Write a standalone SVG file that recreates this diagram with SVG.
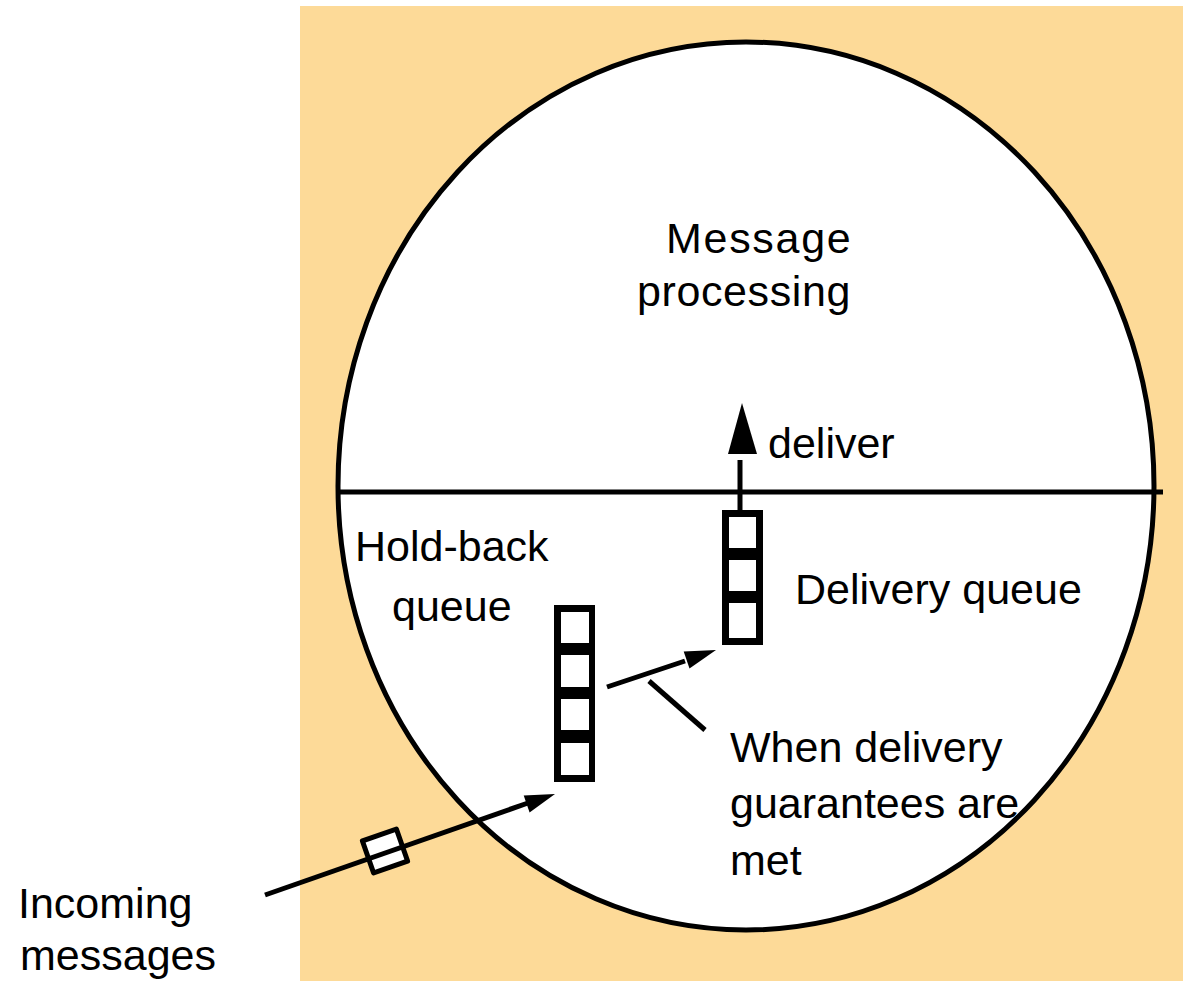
<svg xmlns="http://www.w3.org/2000/svg" width="1183" height="981" viewBox="0 0 1183 981">
  <style>
    .lbl { font-family: "Liberation Sans", Arial, sans-serif; font-size: 43px; fill: #000; }
    .ln { stroke: #000; stroke-width: 5; fill: none; }
    .head { fill: #000; }
    .cell { fill: #fff; }
  </style>

  <!-- process background -->
  <rect id="background" x="300" y="6" width="883" height="975" fill="#FDDA98"/>

  <!-- process boundary, split into processing and queue halves -->
  <g id="process">
    <ellipse cx="746" cy="486" rx="408" ry="444" fill="#fff" stroke="#000" stroke-width="5"/>
    <line x1="338" y1="492" x2="1163" y2="492" class="ln"/>
  </g>

  <g id="message-processing">
    <text class="lbl" x="666" y="253" letter-spacing="1.7">Message</text>
    <text class="lbl" x="637" y="306" letter-spacing="0.6">processing</text>
  </g>

  <!-- hold-back queue -->
  <g id="holdback-queue">
    <rect x="554" y="605" width="41" height="177" fill="#000"/>
    <rect class="cell" x="561" y="612" width="28" height="31"/>
    <rect class="cell" x="561" y="655" width="28" height="32"/>
    <rect class="cell" x="561" y="699" width="28" height="31"/>
    <rect class="cell" x="561" y="743" width="28" height="32"/>
    <text class="lbl" x="355" y="561">Hold-back</text>
    <text class="lbl" x="392" y="621">queue</text>
  </g>

  <!-- delivery queue -->
  <g id="delivery-queue">
    <rect x="722" y="510" width="41" height="135" fill="#000"/>
    <rect class="cell" x="729" y="517" width="27" height="31"/>
    <rect class="cell" x="729" y="560" width="27" height="31"/>
    <rect class="cell" x="729" y="603" width="27" height="35"/>
    <text class="lbl" x="795" y="604">Delivery queue</text>
  </g>

  <!-- message in transit -->
  <g id="incoming-message">
    <rect x="-18" y="-17" width="36" height="34" fill="#fff" stroke="#000" stroke-width="5" stroke-linejoin="round" transform="translate(385 851) rotate(-19.2)"/>
  </g>

  <g id="incoming-label">
    <text class="lbl" x="18" y="918">Incoming</text>
    <text class="lbl" x="20" y="970">messages</text>
  </g>

  <g id="condition-label">
    <text class="lbl" x="730" y="762">When delivery</text>
    <text class="lbl" x="730" y="818">guarantees are</text>
    <text class="lbl" x="730" y="875">met</text>
  </g>

  <g id="deliver-label">
    <text class="lbl" x="768" y="458">deliver</text>
  </g>

  <!-- connectors -->
  <g id="connectors">
    <!-- incoming message into the hold-back queue -->
    <line x1="265" y1="895" x2="528" y2="803" class="ln"/>
    <polygon class="head" points="555,794 529.6,812.4 523.7,795.4"/>
    <!-- hold-back queue to delivery queue -->
    <line x1="607" y1="687" x2="685" y2="661" class="ln"/>
    <polygon class="head" points="716,650 689.5,668.5 683.7,651.5"/>
    <!-- condition pointer -->
    <line x1="649" y1="681" x2="705" y2="730" class="ln"/>
    <!-- deliver to message processing -->
    <line x1="740" y1="510" x2="740" y2="460" class="ln"/>
    <polygon class="head" points="742,403 728,454 757,454"/>
  </g>
</svg>
